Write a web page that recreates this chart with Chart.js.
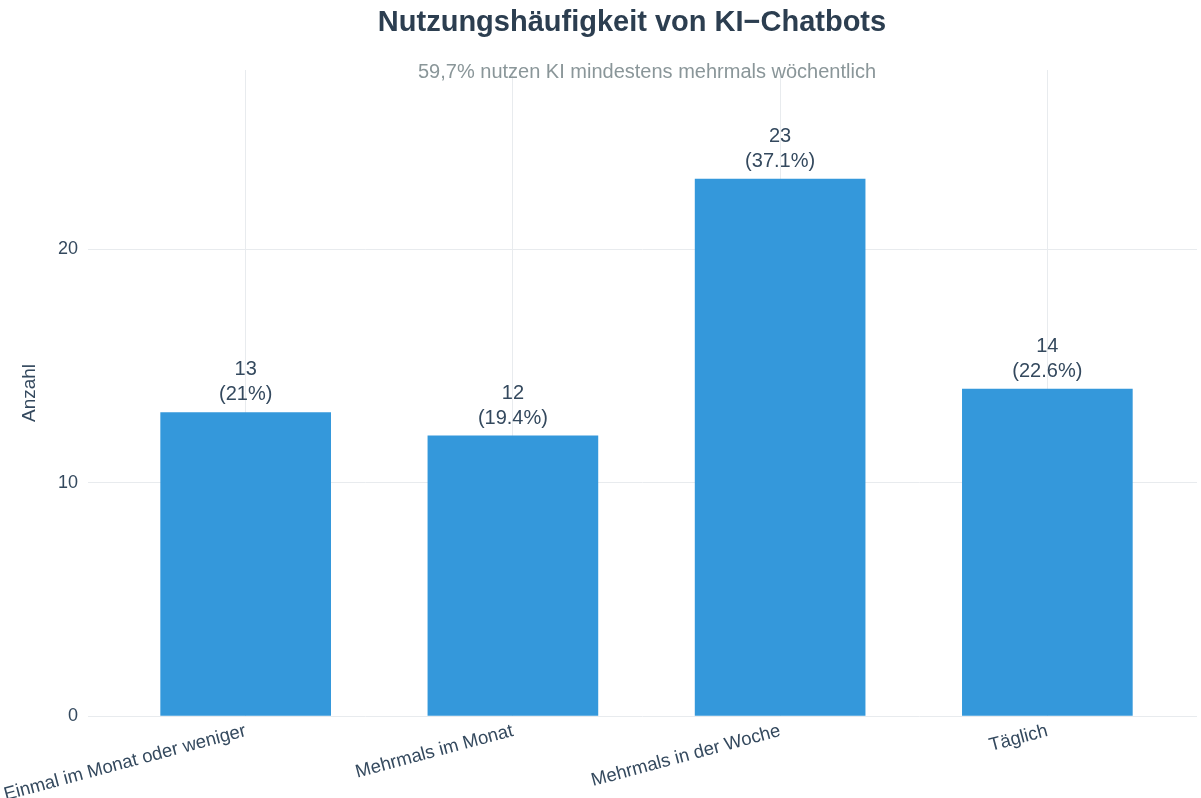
<!DOCTYPE html>
<html>
<head>
<meta charset="utf-8">
<script src="https://cdn.jsdelivr.net/npm/chart.js@4"></script>
<style>
  html, body { margin: 0; padding: 0; background: #fff; }
  #wrap { width: 1201px; height: 798px; }
</style>
</head>
<body>
<div id="wrap"><canvas id="chart" width="1201" height="798"></canvas></div>
<script>
const categories = ["Einmal im Monat oder weniger", "Mehrmals im Monat", "Mehrmals in der Woche", "Täglich"];
const counts = [13, 12, 23, 14];
const yTicks = [0, 10, 20];

const titleText = "Nutzungshäufigkeit von KI\u2212Chatbots";
const subtitleText = "59,7% nutzen KI mindestens mehrmals wöchentlich";

const total = counts.reduce((a, b) => a + b, 0);
const percents = counts.map(v => Math.round(v / total * 1000) / 10);

const FONT = "'Liberation Sans', Arial, sans-serif";
const DARK = "#2c3e50";

// title, subtitle and bar labels
const textPlugin = {
    id: "texts",
    afterDatasetsDraw(chart) {
        const ctx = chart.ctx;
        ctx.save();
        ctx.textAlign = "center";
        ctx.textBaseline = "middle";
        ctx.fillStyle = DARK;
        ctx.font = "bold 29px " + FONT;
        ctx.fillText(titleText, 632, 23);
        ctx.fillStyle = "#8a9699";
        ctx.font = "20px " + FONT;
        ctx.fillText(subtitleText, 647, 72);

        const meta = chart.getDatasetMeta(0);
        ctx.fillStyle = "#34495e";
        ctx.font = "20px " + FONT;
        ctx.textBaseline = "alphabetic";
        meta.data.forEach((bar, i) => {
            ctx.fillText(String(counts[i]), bar.x, bar.y - 37);
            ctx.fillText("(" + percents[i] + "%)", bar.x, bar.y - 12);
        });
        ctx.restore();
    }
};

new Chart(document.getElementById("chart"), {
    type: "bar",
    data: {
        datasets: [{
            data: counts.map((v, i) => ({ x: i, y: v })),
            backgroundColor: "#3498db",
            barThickness: 170
        }]
    },
    options: {
        responsive: false,
        animation: false,
        layout: { padding: { top: 70, right: 4, left: 0, bottom: 0 } },
        plugins: {
            legend: { display: false },
            tooltip: { enabled: false },
            title: { display: false }
        },
        scales: {
            x: {
                type: "linear",
                offset: false,
                min: -0.59,
                max: 3.56,
                afterFit(scale) {
                    scale.height = 82;
                    scale.paddingLeft = 0;
                    scale.paddingRight = 0;
                },
                afterBuildTicks(scale) {
                    scale.ticks = categories.map((c, i) => ({ value: i }));
                },
                border: { display: false },
                grid: { color: "#e8ebee", lineWidth: 1, drawTicks: false, offset: false },
                ticks: {
                    autoSkip: false,
                    minRotation: 15,
                    maxRotation: 15,
                    padding: 4,
                    color: "#34495e",
                    font: { family: FONT, size: 18.5 },
                    callback: v => categories[v]
                }
            },
            y: {
                min: 0,
                max: 27.67,
                afterFit(scale) { scale.width = 88; },
                afterBuildTicks(scale) {
                    scale.ticks = yTicks.map(v => ({ value: v }));
                },
                border: { display: false },
                grid: { color: "#e8ebee", lineWidth: 1, drawTicks: false },
                ticks: {
                    padding: 10,
                    color: "#34495e",
                    font: { family: FONT, size: 18 }
                },
                title: {
                    display: true,
                    text: "Anzahl",
                    color: "#34495e",
                    font: { family: FONT, size: 19 },
                    padding: { top: 18, bottom: 20 }
                }
            }
        }
    },
    plugins: [textPlugin]
});
</script>
</body>
</html>
